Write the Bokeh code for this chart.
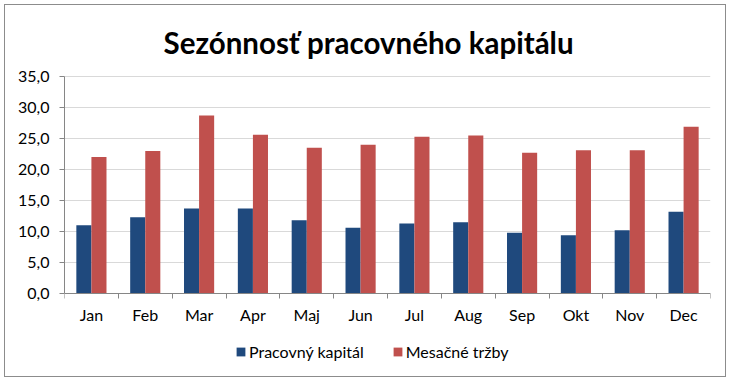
from bokeh.plotting import figure
from bokeh.models import ColumnDataSource, FixedTicker, Legend, LegendItem, Label
from bokeh.transform import dodge
from bokeh.embed import file_html
from bokeh.resources import INLINE

title_text = "Sezónnosť pracovného kapitálu"
months = ["Jan", "Feb", "Mar", "Apr", "Maj", "Jun", "Jul", "Aug", "Sep", "Okt", "Nov", "Dec"]
pracovny_kapital = [11.0, 12.3, 13.7, 13.7, 11.8, 10.6, 11.3, 11.5, 9.8, 9.4, 10.2, 13.2]
mesacne_trzby = [22.0, 23.0, 28.7, 25.6, 23.5, 24.0, 25.3, 25.5, 22.7, 23.1, 23.1, 26.9]
y_ticks = [0, 5, 10, 15, 20, 25, 30, 35]
y_tick_labels = ["0,0", "5,0", "10,0", "15,0", "20,0", "25,0", "30,0", "35,0"]

BLUE = "#1F497D"
RED = "#C0504D"
AXIS = "#868686"
FONT = "Lato"

x_centers = [i + 0.5 for i in range(len(months))]
source = ColumnDataSource(dict(x=x_centers, pk=pracovny_kapital, mt=mesacne_trzby))

# the frame spans the title and legend area; the value axis is bounded to 0..35
p = figure(width=722, height=373, x_range=(0, len(months)), y_range=(-12.42, 45.16),
           output_backend="svg", toolbar_location=None,
           min_border_left=59, min_border_right=17, min_border_top=8, min_border_bottom=8)
p.styles = {"border": "1px solid #8c8c8c", "margin-left": "4px", "margin-top": "4px"}
p.outline_line_color = None
p.background_fill_color = "white"
p.border_fill_color = "white"

r1 = p.vbar(x=dodge("x", -0.14), top="pk", width=0.28, source=source,
            fill_color=BLUE, line_color=None)
r2 = p.vbar(x=dodge("x", 0.14), top="mt", width=0.28, source=source,
            fill_color=RED, line_color=None)

title = Label(x=1.84, y=40.5, text=title_text, text_align="left", text_baseline="alphabetic",
              text_font=FONT, text_font_style="bold", text_font_size="29.5px", text_color="black")
p.add_layout(title)

# y axis
p.yaxis.ticker = FixedTicker(ticks=y_ticks)
p.yaxis.bounds = (0, 35)
p.yaxis.major_label_overrides = {t: l for t, l in zip(y_ticks, y_tick_labels)}
p.yaxis.axis_line_color = AXIS
p.yaxis.major_tick_line_color = AXIS
p.yaxis.major_tick_in = 0
p.yaxis.major_tick_out = 5
p.yaxis.minor_tick_line_color = None
p.yaxis.major_label_text_font = FONT
p.yaxis.major_label_text_font_size = "16px"
p.yaxis.major_label_text_color = "black"
p.yaxis.major_label_standoff = 10

# x axis, drawn at value 0
p.xaxis.fixed_location = 0
p.xaxis.ticker = FixedTicker(ticks=x_centers, minor_ticks=list(range(len(months) + 1)))
p.xaxis.major_label_overrides = {x: m for x, m in zip(x_centers, months)}
p.xaxis.axis_line_color = AXIS
p.xaxis.major_tick_line_color = None
p.xaxis.major_tick_out = 0
p.xaxis.major_tick_in = 0
p.xaxis.minor_tick_line_color = AXIS
p.xaxis.minor_tick_in = 0
p.xaxis.minor_tick_out = 5
p.xaxis.major_label_text_font = FONT
p.xaxis.major_label_text_font_size = "16px"
p.xaxis.major_label_text_color = "black"
p.xaxis.major_label_standoff = 7

p.xgrid.grid_line_color = None
p.ygrid.ticker = FixedTicker(ticks=y_ticks)
p.ygrid.grid_line_color = "#D9D9D9"

legend = Legend(items=[LegendItem(label="Pracovný kapitál", renderers=[r1]),
                       LegendItem(label="Mesačné tržby", renderers=[r2])],
                orientation="horizontal", location=(171, 9),
                padding=0, margin=0, spacing=28,
                glyph_width=11, glyph_height=11, label_standoff=3,
                border_line_color=None, background_fill_alpha=0,
                label_text_font=FONT, label_text_font_size="16px", label_text_color="black")
p.add_layout(legend, "center")

open("out.html", "w").write(file_html(p, INLINE))
